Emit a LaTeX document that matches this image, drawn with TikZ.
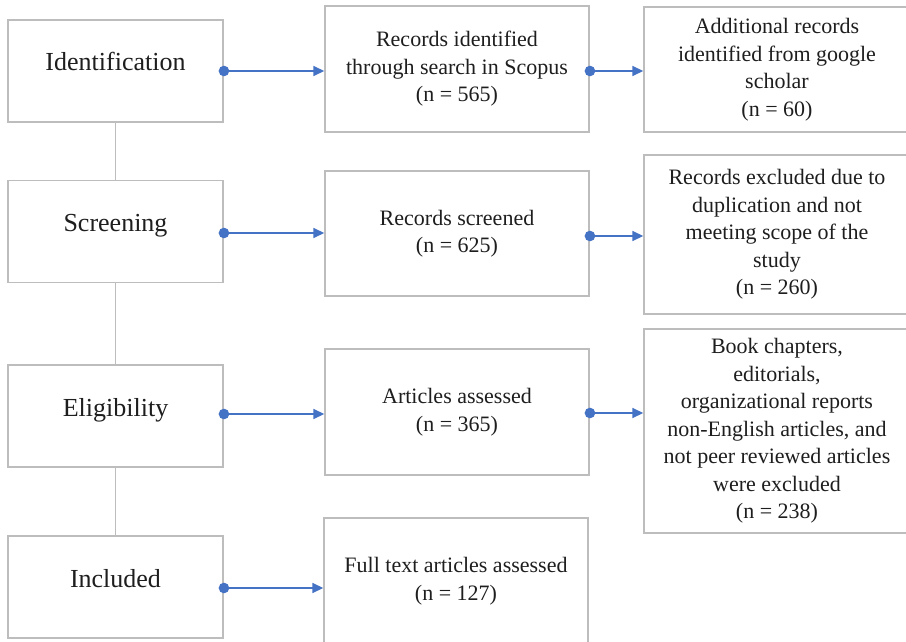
\documentclass[tikz,border=0pt]{standalone}
\usepackage{fontspec}
\setmainfont{Liberation Serif}
\usetikzlibrary{arrows.meta}
\definecolor{boxgray}{HTML}{BDBDBD}
\definecolor{flowblue}{HTML}{4472C4}
\definecolor{txt}{HTML}{1E1E1E}
\begin{document}
\begin{tikzpicture}[x=1pt,y=-1pt,
  box/.style={draw=boxgray, line width=1.4pt, fill=white, text=txt, align=center, inner sep=0pt,
    font=\fontsize{22}{27.5}\selectfont},
  stage/.style={draw=boxgray, line width=1.4pt, fill=white, text=txt, inner sep=0pt,
    minimum width=215pt, text height=51pt, text depth=51pt,
    font=\fontsize{26}{30}\selectfont},
  link/.style={draw=boxgray, line width=1.4pt},
  flow/.style={draw=flowblue, line width=1.6pt, shorten <=-5pt,
    {Circle[length=10.5pt,fill=flowblue]}-{Triangle[length=11pt,width=10pt,fill=flowblue]}}
]
\useasboundingbox (0,0) rectangle (906,642);
\clip (0,0) rectangle (906,642);

% left stage boxes
\node[stage] (id)  at (115.5,71)  {Identification};
\node[stage] (scr) at (115.5,231.5) {Screening};
\node[stage] (eli) at (115.5,416) {Eligibility};
\node[stage] (inc) at (115.5,587) {Included};

% middle boxes
\node[box, minimum width=264pt, minimum height=126pt] (rec) at (457,69)
  {Records identified\\through search in Scopus\\(n = 565)};
\node[box, minimum width=264pt, minimum height=125pt] (scd) at (457,233.5)
  {Records screened\\(n = 625)};
\node[box, minimum width=264pt, minimum height=126pt] (art) at (457,412)
  {Articles assessed\\(n = 365)};
\node[box, minimum width=264pt, minimum height=126pt] (full) at (456,581)
  {Full text articles assessed\\(n = 127)};

% right boxes (cut at the right edge)
\node[box, minimum width=266pt, minimum height=125pt] (add) at (777,69.5)
  {Additional records\\identified from google\\scholar\\(n = 60)};
\node[box, minimum width=266pt, minimum height=159pt] (exc) at (777,234.5)
  {Records excluded due to\\duplication and not\\meeting scope of the\\study\\(n = 260)};
\node[box, minimum width=266pt, minimum height=204pt] (book) at (777,431)
  {Book chapters,\\editorials,\\organizational reports\\non-English articles, and\\not peer reviewed articles\\were excluded\\(n = 238)};

% vertical links between stages
\draw[link] (id.south) -- (scr.north);
\draw[link] (scr.south) -- (eli.north);
\draw[link] (eli.south) -- (inc.north);

% flow arrows
\draw[flow] (id.east) -- (id.east -| rec.west);
\draw[flow] (scr.east) ++(0,1.5) coordinate (s1) (s1) -- (s1 -| scd.west);
\draw[flow] (eli.east) ++(0,-2) coordinate (e1) (e1) -- (e1 -| art.west);
\draw[flow] (inc.east) ++(0,1) coordinate (i1) (i1) -- (i1 -| full.west);

\draw[flow] (rec.east) ++(0,2) coordinate (r1) (r1) -- (r1 -| add.west);
\draw[flow] (scd.east) ++(0,2.5) coordinate (d1) (d1) -- (d1 -| exc.west);
\draw[flow] (art.east) ++(0,1) coordinate (a1) (a1) -- (a1 -| book.west);
\end{tikzpicture}
\end{document}
